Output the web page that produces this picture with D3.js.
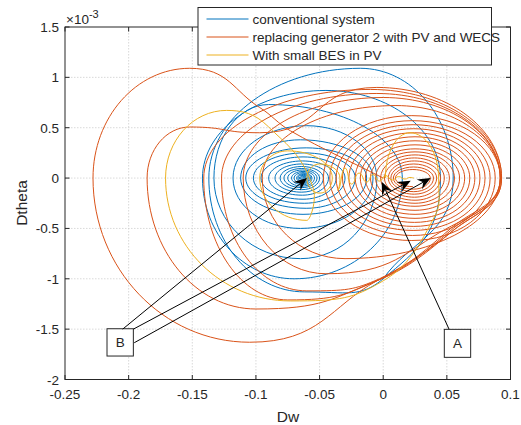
<!DOCTYPE html>
<html><head><meta charset="utf-8">
<script src="https://cdn.jsdelivr.net/npm/d3@7"></script>
<style>
body{margin:0;background:#fff}
text{font-family:"Liberation Sans",Arial,Helvetica,sans-serif;fill:#262626}
</style>
</head><body>
<svg id="chart" width="521" height="425"></svg>
<script>
// ---------- data: Dw on x, Dtheta on y (in units of 1e-3) ----------
const xTicks = [-0.25,-0.2,-0.15,-0.1,-0.05,0,0.05,0.1];
const xTickLabels = ["-0.25","-0.2","-0.15","-0.1","-0.05","0","0.05","0.1"];
const yTicks = [-2,-1.5,-1,-0.5,0,0.5,1,1.5];
const yTickLabels = ["-2","-1.5","-1","-0.5","0","0.5","1","1.5"];
const seriesNames = ["conventional system","replacing generator 2 with PV and WECS","With small BES in PV"];
const seriesColors = ["#0072BD","#D95319","#EDB120"];

// trajectory key points [Dw, Dtheta, tangent]: 'h' = horizontal tangent (top/bottom),
// 'v' = vertical tangent (left/right), 'c' = passing point
const blueLoops = [
  [0.0,-1.0,'c'],[0.055,0,'v'],[-0.018,1.09,'h'],[-0.137,0,'v'],[-0.062,-1.13,'h'],
  [0.0,-1.0,'c'],[0.045,0,'v'],[-0.045,0.87,'h'],[-0.142,0,'v'],[-0.07,-1.0,'h'],
  [0.015,0,'v'],[-0.09,0.73,'h'],[-0.133,0,'v'],[-0.065,-0.8,'h'],
  [-0.005,0,'v'],[-0.06,0.52,'h'],[-0.118,0,'v'],[-0.065,-0.5,'h'],
  [-0.008,0,'v'],[-0.065,0.38,'h'],[-0.112,0,'v'],[-0.063,-0.36,'h']
];
// inner rings: [left Dw, right Dw, top Dtheta, bottom Dtheta]
const blueRings = [
  [-0.108,-0.013,0.30,-0.30],[-0.102,-0.022,0.25,-0.25],[-0.096,-0.030,0.21,-0.21],
  [-0.090,-0.037,0.17,-0.17],[-0.085,-0.043,0.14,-0.14],[-0.081,-0.047,0.115,-0.115],
  [-0.078,-0.050,0.095,-0.095],[-0.075,-0.052,0.08,-0.08],[-0.072,-0.054,0.066,-0.066],
  [-0.070,-0.056,0.054,-0.054],[-0.068,-0.057,0.044,-0.044],[-0.067,-0.058,0.036,-0.036],
  [-0.066,-0.059,0.028,-0.028],[-0.065,-0.060,0.021,-0.021],[-0.064,-0.061,0.015,-0.015],
  [-0.063,-0.0615,0.01,-0.01]
];
const orangeLoops = [
  [0.0,0.0,'c'],[-0.073,0.47,'c'],[-0.097,0.70,'c'],
  [-0.152,1.09,'h'],[-0.228,0,'v'],[-0.105,-1.63,'h'],[-0.005,-1.02,'c'],[0.055,-0.52,'c'],[0.093,0,'v'],
  [-0.005,0.9,'h'],[-0.097,0.45,'h'],[-0.152,0.507,'h'],[-0.1855,0,'v'],[-0.1,-1.3,'h'],[-0.005,-1.02,'c'],[0.055,-0.52,'c'],[0.093,0,'v'],
  [-0.01,0.88,'h'],[-0.141,0,'v'],[-0.075,-1.21,'h'],[-0.005,-1.02,'c'],[0.055,-0.5,'c'],[0.092,0,'v'],
  [-0.005,0.84,'h'],[-0.127,0,'v'],[-0.06,-1.12,'h'],[-0.003,-1.0,'c'],[0.055,-0.48,'c'],[0.092,0,'v'],
  [0.0,0.8,'h'],[-0.11,0,'v'],[-0.045,-0.95,'h'],[0.05,-0.5,'c'],[0.092,0,'v'],
  [0.01,0.72,'h'],[-0.095,0,'v'],[-0.03,-0.8,'h']
];
const orangeRings = [
  [-0.047,0.092,0.62,-0.62],[-0.042,0.088,0.57,-0.57],[-0.037,0.084,0.53,-0.52],
  [-0.032,0.080,0.49,-0.48],[-0.027,0.076,0.45,-0.44],[-0.022,0.072,0.41,-0.40],
  [-0.018,0.068,0.37,-0.36],[-0.014,0.064,0.33,-0.32],[-0.010,0.060,0.29,-0.28],
  [-0.006,0.056,0.26,-0.25],[-0.002,0.052,0.23,-0.22],[0.001,0.048,0.20,-0.19],
  [0.004,0.045,0.17,-0.16],[0.006,0.042,0.14,-0.135],[0.008,0.0395,0.11,-0.11],
  [0.0096,0.037,0.085,-0.085]
];
const yellowLoops = [
  [0.0017,0,'v'],[0.021,0.45,'h'],[0.0435,0,'v'],[0.04,-0.39,'c'],[0.0,-1.02,'c'],[-0.073,-1.22,'h'],[-0.171,0,'v'],
  [-0.123,0.672,'h'],[-0.081,0.4,'c'],[-0.055,-0.1,'c'],[-0.06,-0.42,'h'],[-0.097,0,'v'],[-0.075,0.27,'h'],
  [-0.04,0,'v'],[-0.05,-0.15,'h'],[-0.06,0,'v'],[-0.05,0.14,'h'],[-0.034,0,'v'],[-0.036,-0.12,'h'],
  [-0.03,0.1,'h'],[-0.025,-0.06,'h'],[-0.019,0.05,'h'],[-0.013,-0.04,'h'],[-0.008,0.035,'h'],
  [-0.003,-0.03,'h'],[0.002,0.025,'h'],[0.007,-0.02,'h'],[0.012,0.015,'h'],[0.017,-0.01,'h'],
  [0.021,0.006,'h'],[0.024,0,'c']
];

// annotations (data coordinates)
const arrowFrom = [[-0.2047,-1.50],[-0.1963,-1.50],[-0.1956,-1.635],[0.0517,-1.50]];
const arrowTo   = [[-0.0599,0.0],[0.0216,-0.026],[0.0373,0.0],[-0.0012,-0.036]];
const boxLabels = ["B","A"];
const boxCorners = [[-0.217,-1.496,-0.1963,-1.767],[0.048,-1.502,0.0687,-1.78]];

// ---------- layout ----------
const svg = d3.select("#chart");
const L=65, R=510.5, T=27, B=379.5;
const x = d3.scaleLinear().domain([-0.25,0.1]).range([L,R]);
const y = d3.scaleLinear().domain([-2,1.5]).range([B,T]);

const grid = svg.append("g").attr("stroke","#cfcfcf").attr("stroke-dasharray","1.5,1.5").attr("stroke-width",0.8);
xTicks.slice(1,-1).forEach(t=>grid.append("line").attr("x1",x(t)).attr("x2",x(t)).attr("y1",T).attr("y2",B));
yTicks.slice(1,-1).forEach(t=>grid.append("line").attr("y1",y(t)).attr("y2",y(t)).attr("x1",L).attr("x2",R));

svg.append("clipPath").attr("id","clip").append("rect").attr("x",L).attr("y",T).attr("width",R-L).attr("height",B-T);

function ringPoints(rings){
  const pts=[];
  rings.forEach(r=>{
    const m=(r[0]+r[1])/2;
    pts.push([r[1],0,'v'],[m,r[2],'h'],[r[0],0,'v'],[m,r[3],'h']);
  });
  return pts;
}
function trajectoryPath(pts){
  const P = pts.map(p=>[x(p[0]),y(p[1]),p[2]]);
  const K = 0.5523;
  const p = d3.path();
  p.moveTo(P[0][0],P[0][1]);
  function tangent(i, dx, dy){
    const t=P[i][2];
    if(t==='h') return [Math.sign(dx)*K*Math.abs(dx),0];
    if(t==='v') return [0,Math.sign(dy)*K*Math.abs(dy)];
    const a=P[Math.max(i-1,0)], b=P[Math.min(i+1,P.length-1)];
    const tx=b[0]-a[0], ty=b[1]-a[1], n=Math.hypot(tx,ty)||1, l=Math.hypot(dx,dy)*0.38;
    return [tx/n*l, ty/n*l];
  }
  for(let i=0;i<P.length-1;i++){
    const a=P[i], b=P[i+1], dx=b[0]-a[0], dy=b[1]-a[1];
    const t0=tangent(i,dx,dy), t1=tangent(i+1,dx,dy);
    p.bezierCurveTo(a[0]+t0[0],a[1]+t0[1], b[0]-t1[0],b[1]-t1[1], b[0],b[1]);
  }
  return p.toString();
}
const seriesPts = [
  blueLoops.concat(ringPoints(blueRings)),
  orangeLoops.concat(ringPoints(orangeRings)),
  yellowLoops
];
const plot = svg.append("g").attr("clip-path","url(#clip)");
seriesPts.forEach((pts,i)=>{
  plot.append("path").attr("d",trajectoryPath(pts)).attr("fill","none").attr("stroke",seriesColors[i]).attr("stroke-width",1);
});

// axes
const ax = svg.append("g").attr("stroke","#262626").attr("stroke-width",1);
ax.append("rect").attr("x",L).attr("y",T).attr("width",R-L).attr("height",B-T).attr("fill","none");
const tl=4.5;
xTicks.forEach(t=>{
  ax.append("line").attr("x1",x(t)).attr("x2",x(t)).attr("y1",B).attr("y2",B-tl);
  ax.append("line").attr("x1",x(t)).attr("x2",x(t)).attr("y1",T).attr("y2",T+tl);
});
yTicks.forEach(t=>{
  ax.append("line").attr("y1",y(t)).attr("y2",y(t)).attr("x1",L).attr("x2",L+tl);
  ax.append("line").attr("y1",y(t)).attr("y2",y(t)).attr("x1",R).attr("x2",R-tl);
});
const fs=13.5;
xTicks.forEach((t,i)=>svg.append("text").attr("x",x(t)).attr("y",B+19.5).attr("text-anchor","middle").attr("font-size",fs).text(xTickLabels[i]));
yTicks.forEach((t,i)=>svg.append("text").attr("x",L-6).attr("y",y(t)+5).attr("text-anchor","end").attr("font-size",fs).text(yTickLabels[i]));
svg.append("text").attr("x",288).attr("y",421.5).attr("text-anchor","middle").attr("font-size",15.5).text("Dw");
svg.append("text").attr("transform","translate(27,203) rotate(-90)").attr("text-anchor","middle").attr("font-size",15.5).text("Dtheta");
const ex = svg.append("text").attr("x",66).attr("y",23.5).attr("font-size",fs);
ex.append("tspan").text("\u00d710");
ex.append("tspan").attr("dy",-5.5).attr("font-size",11).text("-3");

// annotations
const ann = svg.append("g");
boxCorners.forEach((b,i)=>{
  const x0=x(b[0]),x1=x(b[2]),y0=y(b[1]),y1=y(b[3]);
  ann.append("rect").attr("x",x0).attr("y",y0).attr("width",x1-x0).attr("height",y1-y0).attr("fill","#fff").attr("stroke","#262626").attr("stroke-width",1);
  ann.append("text").attr("x",(x0+x1)/2).attr("y",(y0+y1)/2+5).attr("text-anchor","middle").attr("font-size",fs).text(boxLabels[i]);
});
arrowFrom.forEach((f,i)=>{
  const t=arrowTo[i];
  const x0=x(f[0]),y0=y(f[1]),x1=x(t[0]),y1=y(t[1]);
  const dx=x1-x0,dy=y1-y0,len=Math.hypot(dx,dy),ux=dx/len,uy=dy/len,px=-uy,py=ux;
  const Lh=13,W=5.5,N=8.5;
  ann.append("line").attr("x1",x0).attr("y1",y0).attr("x2",x1-ux*N).attr("y2",y1-uy*N).attr("stroke","#000").attr("stroke-width",1);
  const pts=[[x1,y1],[x1-ux*Lh+px*W,y1-uy*Lh+py*W],[x1-ux*N,y1-uy*N],[x1-ux*Lh-px*W,y1-uy*Lh-py*W]];
  ann.append("path").attr("d","M"+pts.map(p=>p.join(",")).join("L")+"Z").attr("fill","#000");
});

// legend
const lg = svg.append("g");
lg.append("rect").attr("x",198).attr("y",7.5).attr("width",293.5).attr("height",57.5).attr("fill","#fff").attr("stroke","#262626").attr("stroke-width",1);
seriesNames.forEach((n,i)=>{
  const yy=19+i*18;
  lg.append("line").attr("x1",206.5).attr("x2",248.5).attr("y1",yy).attr("y2",yy).attr("stroke",seriesColors[i]).attr("stroke-width",1);
  lg.append("text").attr("x",252.5).attr("y",yy+5).attr("font-size",fs).text(n);
});
</script>
</body></html>
